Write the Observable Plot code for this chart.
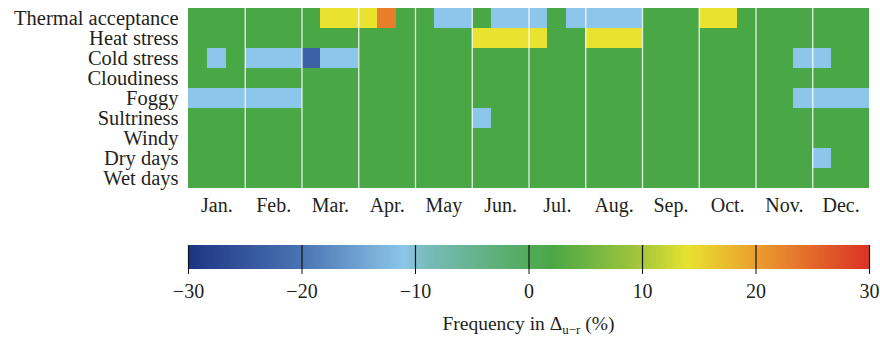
<!DOCTYPE html>
<html>
<head>
<meta charset="utf-8">
<script src="https://cdn.jsdelivr.net/npm/d3@7"></script>
<script src="https://cdn.jsdelivr.net/npm/@observablehq/plot@0.6"></script>
<style>
  html, body { margin: 0; padding: 0; background: #fff; }
  #wrap { position: relative; width: 880px; height: 337px; font-family: "Liberation Serif", serif; color: #231f20; }
  #wrap svg { display: block; }
  #caption { position: absolute; left: 188px; width: 681px; top: 312px; text-align: center; font-family: "Liberation Serif", serif; font-size: 19.5px; line-height: 24px; }
  #caption sub { font-size: 13px; vertical-align: -4px; line-height: 0; }
</style>
</head>
<body>
<div id="wrap"></div>
<script>
const months = ["Jan.", "Feb.", "Mar.", "Apr.", "May", "Jun.", "Jul.", "Aug.", "Sep.", "Oct.", "Nov.", "Dec."];
const categories = ["Thermal acceptance", "Heat stress", "Cold stress", "Cloudiness", "Foggy", "Sultriness", "Windy", "Dry days", "Wet days"];
// values per dekad (3 per month, 36 per row), difference in frequency (%)
const thermalAcceptance = [2,2,2,2,2,2,2,14,14,14,23,2,2,-11,-11,2,-11,-11,-11,2,-11,-11,-11,-11,2,2,2,14,14,2,2,2,2,2,2,2];
const heatStress        = [2,2,2,2,2,2,2,2,2,2,2,2,2,2,2,14,14,14,14,2,2,14,14,14,2,2,2,2,2,2,2,2,2,2,2,2];
const coldStress        = [2,-11,2,-11,-11,-11,-23,-11,-11,2,2,2,2,2,2,2,2,2,2,2,2,2,2,2,2,2,2,2,2,2,2,2,-11,-11,2,2];
const cloudiness        = [2,2,2,2,2,2,2,2,2,2,2,2,2,2,2,2,2,2,2,2,2,2,2,2,2,2,2,2,2,2,2,2,2,2,2,2];
const foggy             = [-11,-11,-11,-11,-11,-11,2,2,2,2,2,2,2,2,2,2,2,2,2,2,2,2,2,2,2,2,2,2,2,2,2,2,-11,-11,-11,-11];
const sultriness        = [2,2,2,2,2,2,2,2,2,2,2,2,2,2,2,-11,2,2,2,2,2,2,2,2,2,2,2,2,2,2,2,2,2,2,2,2];
const windy             = [2,2,2,2,2,2,2,2,2,2,2,2,2,2,2,2,2,2,2,2,2,2,2,2,2,2,2,2,2,2,2,2,2,2,2,2];
const dryDays           = [2,2,2,2,2,2,2,2,2,2,2,2,2,2,2,2,2,2,2,2,2,2,2,2,2,2,2,2,2,2,2,2,2,-11,2,2];
const wetDays           = [2,2,2,2,2,2,2,2,2,2,2,2,2,2,2,2,2,2,2,2,2,2,2,2,2,2,2,2,2,2,2,2,2,2,2,2];
const colorbarTicks = [-30, -20, -10, 0, 10, 20, 30];

const rows = [thermalAcceptance, heatStress, coldStress, cloudiness, foggy, sultriness, windy, dryDays, wetDays];
const cells = [];
rows.forEach((vals, r) => vals.forEach((v, i) => cells.push({cat: categories[r], i, v})));

const colorScale = {
  type: "linear",
  domain: [-30, -20, -11, -9, 2, 10, 14, 20, 30],
  range: ["#1d3584", "#4a74b3", "#8cc6ea", "#78bbbb", "#4aa745", "#a6c73c", "#e9e22f", "#ea9f2f", "#dc3226"],
  interpolate: "rgb"
};

const monthCenters = months.map((m, k) => k * 3 + 1.5);
const monthBounds = d3.range(1, 12).map(k => k * 3);

const heat = Plot.plot({
  width: 880, height: 225,
  marginLeft: 188, marginRight: 11, marginTop: 7, marginBottom: 36,
  style: {fontFamily: "Liberation Serif, serif", fontSize: "20px", color: "#231f20", background: "white"},
  x: {domain: [0, 36], axis: null},
  y: {domain: categories, padding: 0, axis: null},
  color: colorScale,
  marks: [
    Plot.barX(cells, {x1: "i", x2: d => d.i + 1, y: "cat", fill: "v", shapeRendering: "crispEdges"}),
    Plot.ruleX(monthBounds, {stroke: "white", strokeWidth: 1.3, strokeOpacity: 0.85}),
    Plot.axisY({tickSize: 0, tickPadding: 10, fontSize: 20.5, label: null}),
    Plot.axisX(monthCenters, {tickSize: 0, tickPadding: 8, tickFormat: d => months[(d - 1.5) / 3], label: null})
  ]
});

const steps = d3.range(-30, 30, 0.2);
const bar = Plot.plot({
  width: 880, height: 88,
  marginLeft: 188, marginRight: 11, marginTop: 20, marginBottom: 44,
  style: {fontFamily: "Liberation Serif, serif", fontSize: "20px", color: "#231f20", background: "white"},
  x: {domain: [-30, 30]},
  y: {domain: [0, 1], axis: null},
  color: colorScale,
  marks: [
    Plot.rect(steps, {x1: d => d, x2: d => d + 0.25, y1: 0, y2: 1, fill: d => d + 0.1, shapeRendering: "crispEdges"}),
    Plot.ruleX(colorbarTicks, {y1: 0, y2: 1, stroke: "#111", strokeWidth: 1.2}),
    Plot.axisX(colorbarTicks, {tickSize: 5, tickPadding: 9, label: null, stroke: "#111"})
  ]
});

const wrap = document.getElementById("wrap");
wrap.appendChild(heat);
wrap.appendChild(bar);
const cap = document.createElement("div");
cap.id = "caption";
cap.innerHTML = "Frequency in Δ<sub>u−r</sub> (%)";
wrap.appendChild(cap);
</script>
</body>
</html>
